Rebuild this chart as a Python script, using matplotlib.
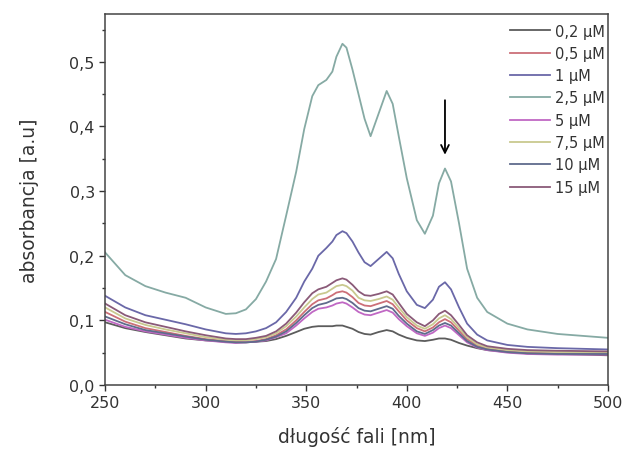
import matplotlib
matplotlib.use("Agg")
import matplotlib.pyplot as plt
from matplotlib.ticker import MultipleLocator, FuncFormatter

plt.rcParams['font.family'] = ['DejaVu Sans']

wavelength = [250, 260, 270, 280, 290, 300, 310, 315, 320, 325, 330, 335, 340, 345, 349, 353, 356,
              360, 363, 365, 368, 370, 373, 376, 379, 382, 386, 390, 393, 396, 400, 405,
              409, 413, 416, 419, 422, 426, 430, 435, 440, 450, 460, 475, 500]

abs_02 = [0.097, 0.088, 0.082, 0.077, 0.072, 0.069, 0.067, 0.066, 0.066, 0.067, 0.068, 0.071, 0.076, 0.082, 0.087, 0.090, 0.091,
          0.091, 0.091, 0.092, 0.092, 0.090, 0.087, 0.082, 0.079, 0.078, 0.082, 0.085, 0.083, 0.078, 0.073, 0.069,
          0.068, 0.070, 0.072, 0.072, 0.070, 0.065, 0.061, 0.057, 0.054, 0.051, 0.049, 0.048, 0.046]

abs_05 = [0.113, 0.098, 0.088, 0.082, 0.076, 0.071, 0.068, 0.067, 0.067, 0.068, 0.071, 0.077, 0.086, 0.100, 0.113, 0.125, 0.131,
          0.134, 0.139, 0.143, 0.145, 0.143, 0.136, 0.127, 0.123, 0.122, 0.126, 0.130, 0.125, 0.114, 0.100, 0.088,
          0.083, 0.089, 0.097, 0.102, 0.097, 0.084, 0.071, 0.061, 0.056, 0.052, 0.050, 0.049, 0.049]

abs_1 = [0.138, 0.120, 0.108, 0.101, 0.094, 0.086, 0.080, 0.079, 0.080, 0.083, 0.088, 0.097, 0.113, 0.135, 0.160, 0.180, 0.200,
         0.212, 0.222, 0.232, 0.238, 0.235, 0.222, 0.205, 0.190, 0.184, 0.195, 0.206, 0.196, 0.172, 0.145, 0.124,
         0.119, 0.132, 0.152, 0.159, 0.148, 0.120, 0.095, 0.078, 0.069, 0.062, 0.059, 0.057, 0.055]

abs_25 = [0.205, 0.170, 0.153, 0.143, 0.135, 0.120, 0.110, 0.111, 0.117, 0.133, 0.160, 0.195, 0.262, 0.330, 0.396, 0.447, 0.464,
          0.472, 0.485, 0.508, 0.528, 0.522, 0.488, 0.450, 0.412, 0.385, 0.420, 0.455, 0.435, 0.385, 0.320, 0.255,
          0.234, 0.262, 0.312, 0.335, 0.315, 0.250, 0.180, 0.135, 0.113, 0.095, 0.086, 0.079, 0.073]

abs_5 = [0.101, 0.090, 0.083, 0.078, 0.073, 0.069, 0.066, 0.065, 0.066, 0.067, 0.069, 0.074, 0.080, 0.092, 0.103, 0.113, 0.118,
         0.120, 0.123, 0.126, 0.128, 0.126, 0.120, 0.113, 0.109, 0.108, 0.112, 0.116, 0.112, 0.102, 0.091, 0.080,
         0.076, 0.081, 0.088, 0.092, 0.088, 0.077, 0.066, 0.058, 0.054, 0.050, 0.048, 0.047, 0.047]

abs_75 = [0.120, 0.103, 0.093, 0.086, 0.080, 0.074, 0.070, 0.069, 0.069, 0.071, 0.074, 0.080, 0.091, 0.106, 0.120, 0.133, 0.140,
          0.143, 0.149, 0.153, 0.155, 0.153, 0.146, 0.135, 0.131, 0.130, 0.133, 0.137, 0.132, 0.120, 0.105, 0.092,
          0.087, 0.094, 0.103, 0.108, 0.102, 0.088, 0.074, 0.063, 0.058, 0.054, 0.052, 0.051, 0.050]

abs_10 = [0.106, 0.094, 0.085, 0.080, 0.075, 0.070, 0.067, 0.066, 0.066, 0.067, 0.070, 0.075, 0.083, 0.096, 0.108, 0.119, 0.124,
          0.127, 0.131, 0.134, 0.135, 0.133, 0.127, 0.119, 0.115, 0.114, 0.118, 0.122, 0.118, 0.107, 0.095, 0.083,
          0.079, 0.085, 0.092, 0.096, 0.092, 0.080, 0.068, 0.059, 0.055, 0.051, 0.049, 0.048, 0.048]

abs_15 = [0.126, 0.108, 0.097, 0.090, 0.083, 0.077, 0.072, 0.071, 0.071, 0.073, 0.076, 0.083, 0.095, 0.112, 0.128, 0.142, 0.148,
          0.152, 0.158, 0.162, 0.165, 0.163, 0.155, 0.145, 0.139, 0.138, 0.141, 0.145, 0.140, 0.127, 0.110, 0.097,
          0.091, 0.100, 0.110, 0.115, 0.108, 0.093, 0.077, 0.066, 0.060, 0.056, 0.054, 0.053, 0.052]

labels = ['0,2 µM', '0,5 µM', '1 µM', '2,5 µM', '5 µM', '7,5 µM', '10 µM', '15 µM']
series = [abs_02, abs_05, abs_1, abs_25, abs_5, abs_75, abs_10, abs_15]
colors = ['#5c5c5c', '#cc6f78', '#6a68a8', '#86aaa4', '#c068c4', '#c9c98f', '#5f6b8c', '#8a5a78']

arrow_x = 419
arrow_top = 0.445
arrow_tip = 0.352

fig = plt.figure(figsize=(6.26, 4.56), dpi=100)
ax = fig.add_axes([0.168, 0.1535, 0.803, 0.8135])

for y, lab, c in zip(series, labels, colors):
    ax.plot(wavelength, y, color=c, lw=1.3, label=lab)

ax.annotate('', xy=(arrow_x, arrow_tip), xytext=(arrow_x, arrow_top),
            arrowprops=dict(arrowstyle='->', color='black', lw=1.3, mutation_scale=14))

ax.set_xlim(250, 500)
ax.set_ylim(0, 0.574)
ax.xaxis.set_major_locator(MultipleLocator(50))
ax.xaxis.set_minor_locator(MultipleLocator(25))
ax.yaxis.set_major_locator(MultipleLocator(0.1))
ax.yaxis.set_minor_locator(MultipleLocator(0.05))
ax.yaxis.set_major_formatter(FuncFormatter(lambda v, p: f"{v:.1f}".replace('.', ',')))
ax.tick_params(which='major', direction='out', length=4, width=1, labelsize=11.5, colors='#333333')
ax.tick_params(which='minor', direction='out', length=2.5, width=1, colors='#333333')
for s in ax.spines.values():
    s.set_color('#444444')
    s.set_linewidth(1.1)

ax.set_xlabel('długość fali [nm]', fontsize=13.5, color='#333333', labelpad=11)
ax.set_ylabel('absorbancja [a.u]', fontsize=13.5, color='#333333', labelpad=22)

leg = ax.legend(loc='upper right', frameon=False, fontsize=10.5, handlelength=2.7,
                handletextpad=0.35, labelspacing=0.5, borderaxespad=0.0,
                bbox_to_anchor=(1.005, 0.99))
for t in leg.get_texts():
    t.set_color('#333333')

fig.savefig('out.png', dpi=100, facecolor='white')
